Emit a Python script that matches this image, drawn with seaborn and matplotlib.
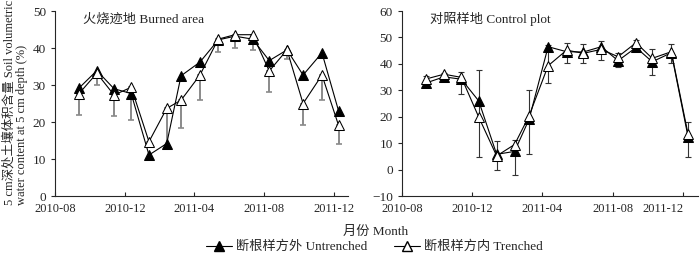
import pandas as pd
import matplotlib.pyplot as plt
import matplotlib.dates as mdates
from matplotlib.lines import Line2D
import seaborn as sns

# sampling dates (approx. monthly)
dates = ["2010-09-12", "2010-10-13", "2010-11-12", "2010-12-12", "2011-01-12", "2011-02-12",
         "2011-03-09", "2011-04-11", "2011-05-13", "2011-06-11", "2011-07-12", "2011-08-10",
         "2011-09-10", "2011-10-08", "2011-11-10", "2011-12-09"]

# Burned area
burn_untrenched = [29.2, 33.9, 29.0, 27.7, 11.1, 14.2, 32.5, 36.2, 42.2, 43.2, 42.4, 36.6, 39.5, 32.7, 38.7, 23.0]
burn_trenched = [27.7, 33.2, 27.3, 29.4, 14.7, 23.7, 25.9, 32.7, 42.4, 43.6, 43.6, 33.8, 39.5, 25.0, 32.7, 19.1]
burn_err = [5.9, 3.1, 5.7, 8.9, 1.0, 10.2, 7.6, 6.8, 3.6, 3.7, 4.0, 5.8, 2.5, 5.7, 6.8, 5.1]

# Control plot
ctrl_untrenched = [32.8, 35.1, 34.2, 26.0, 5.8, 6.9, 19.0, 46.5, 44.6, 44.5, 46.5, 41.2, 46.2, 40.8, 44.2, 12.4]
ctrl_trenched = [34.3, 36.1, 34.9, 19.9, 5.2, 9.5, 20.3, 39.3, 45.2, 44.0, 45.5, 42.7, 48.0, 42.1, 44.6, 13.4]
ctrl_err_lo = [3.0, 1.3, 6.1, 15.1, 5.2, 11.7, 14.5, 6.7, 4.8, 3.5, 4.1, 3.7, 1.5, 6.4, 4.2, 8.6]
ctrl_err_hi = [1.2, 0.4, 2.1, 17.7, 5.6, 1.8, 9.8, 7.7, 2.8, 3.5, 3.3, 1.3, 1.0, 3.7, 2.8, 4.6]

sns.set_style("ticks")
plt.rcParams['font.family'] = ['Liberation Serif', 'Noto Sans CJK SC']
plt.rcParams['font.size'] = 9

t = pd.to_datetime(dates)
burn = pd.DataFrame({"date": t, "Untrenched": burn_untrenched, "Trenched": burn_trenched})
ctrl = pd.DataFrame({"date": t, "Untrenched": ctrl_untrenched, "Trenched": ctrl_trenched})

fig = plt.figure(figsize=(7, 2.56), dpi=100)
ax1 = fig.add_axes([0.0786, 0.234, 0.419, 0.723])
ax2 = fig.add_axes([0.574, 0.234, 0.423, 0.723])

# error bars first so markers sit on top
ax1.errorbar(t, burn_trenched, yerr=[burn_err, [0] * len(burn_err)], fmt="none",
             ecolor="#8a8a8a", elinewidth=1.4, capsize=2.5, capthick=1.2, zorder=1)
ax2.errorbar(t, ctrl_trenched, yerr=[ctrl_err_lo, ctrl_err_hi], fmt="none",
             ecolor="#333333", elinewidth=0.8, capsize=2.5, capthick=0.8, zorder=1)

for ax, df in [(ax1, burn), (ax2, ctrl)]:
    sns.lineplot(data=df, x="date", y="Untrenched", ax=ax, color="black", lw=0.8,
                 marker="^", markersize=6.5, markerfacecolor="black", markeredgecolor="black", zorder=3)
    sns.lineplot(data=df, x="date", y="Trenched", ax=ax, color="black", lw=0.8,
                 marker="^", markersize=6.5, markerfacecolor="white", markeredgecolor="black", zorder=4)
    ax.set_xlim(pd.Timestamp("2010-08-01"), pd.Timestamp("2011-12-26"))
    ax.xaxis.set_major_locator(mdates.MonthLocator(bymonth=[4, 8, 12]))
    ax.xaxis.set_major_formatter(mdates.DateFormatter("%Y-%m"))
    ax.set_xlabel("")
    ax.set_ylabel("")
    sns.despine(ax=ax)
    ax.spines["left"].set_linewidth(0.8)
    ax.spines["bottom"].set_linewidth(0.8)
    ax.tick_params(axis="x", direction="in", length=3, width=0.8, labelsize=9, pad=5)
    ax.tick_params(axis="y", direction="out", length=3, width=0.8, labelsize=9.5)

ax1.set_ylim(0, 50)
ax1.set_yticks(range(0, 51, 10))
ax2.set_ylim(-10, 60)
ax2.set_yticks(range(-10, 61, 10))
ax2.set_yticklabels([str(v).replace("-", "\u2212") for v in range(-10, 61, 10)])

# last month label on the right panel sits inside the figure edge
fig.canvas.draw()
ax2.get_xticklabels()[-1].set_horizontalalignment("right")

ax1.text(0.096, 0.955, "火烧迹地 Burned area", transform=ax1.transAxes, fontsize=9.5, va="center")
ax2.text(0.096, 0.955, "对照样地 Control plot", transform=ax2.transAxes, fontsize=9.5, va="center")

fig.text(0.004, 0.6, "5 cm深处土壤体积含量 Soil volumetric\nwater content at 5 cm depth (%)",
         rotation=90, ha="left", va="center", fontsize=9, linespacing=1.1)
fig.text(0.536, 0.094, "月份 Month", ha="center", va="center", fontsize=9.5)

handles = [Line2D([], [], color="black", lw=0.8, marker="^", markersize=6.5,
                  markerfacecolor="black", markeredgecolor="black"),
           Line2D([], [], color="black", lw=0.8, marker="^", markersize=6.5,
                  markerfacecolor="white", markeredgecolor="black")]
fig.legend(handles, ["断根样方外 Untrenched", "断根样方内 Trenched"], loc="center",
           bbox_to_anchor=(0.535, 0.035), ncol=2, frameon=False, fontsize=9.5,
           handlelength=2.0, handletextpad=0.3, columnspacing=2.0)

fig.savefig("out.png", dpi=100)
